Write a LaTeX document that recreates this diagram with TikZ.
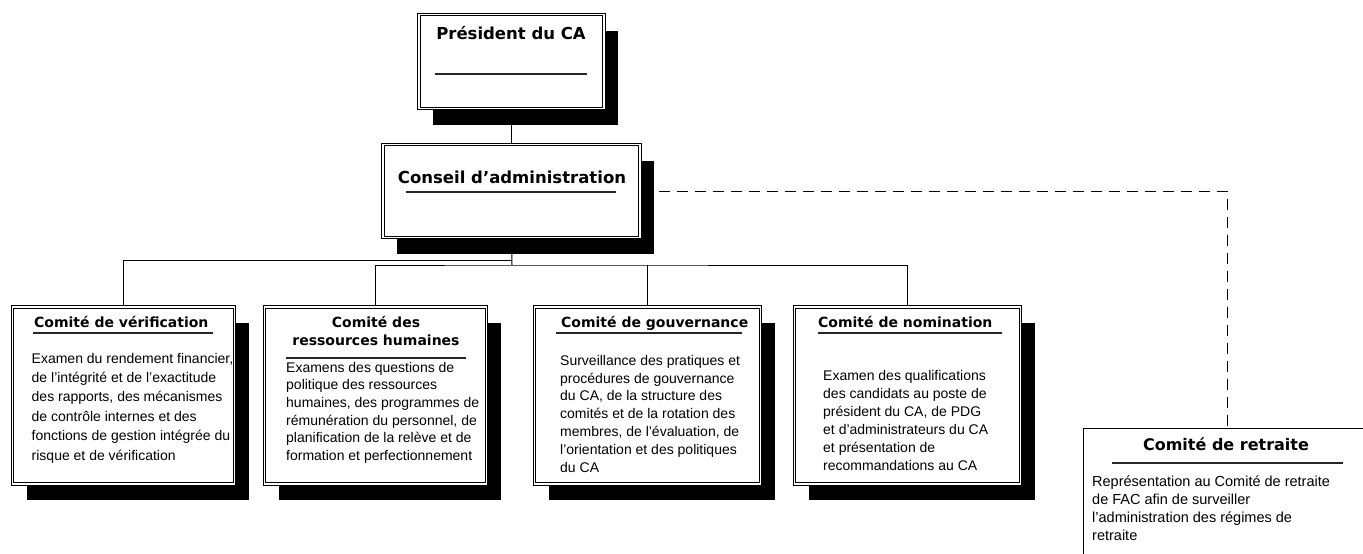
\documentclass[tikz,border=0pt]{standalone}
\usepackage{fontspec}
\setmainfont{Liberation Sans}
\newfontfamily\titlefont{DejaVu Sans}
\usepackage{tikz}
\usetikzlibrary{shadows}

\begin{document}
\begin{tikzpicture}[x=1pt, y=-1pt,
    boite/.style={draw, fill=white, line width=1.1pt, double=white, double distance=1.6pt, inner sep=0pt,
        drop shadow={shadow xshift=14pt, shadow yshift=-16pt, opacity=1, fill=black}},
    titre/.style={inner sep=0pt, anchor=base, font=\titlefont\bfseries\fontsize{#1}{18}\selectfont},
    titre/.default=14,
    corps/.style={inner sep=0pt, anchor=base west, align=left},
    trait/.style={line width=1.2pt, black!85},
    lien/.style={line width=1pt}]
                    \useasboundingbox (0,0) rectangle (1363,554);
                    \clip (0,0) rectangle (1363,554);

                    \node[boite, minimum width=185, minimum height=94] (pres) at (511.5,61.5) {};
                    \node[boite, minimum width=257, minimum height=93] (ca) at (511.5,191) {};
                    \foreach \nom/\cx/\w in {verif/123.5/222, rh/375.5/222, gouv/647.5/226, nomin/907.5/226}
                        \node[boite, minimum width=\w, minimum height=177] (\nom) at (\cx,395.5) {};
                    \node[draw, line width=1pt, minimum width=288, minimum height=160, inner sep=0pt] (retraite) at (1227,508) {};

                    % liens
                    \coordinate (bus1) at (512,260);
                    \coordinate (bus2) at (512,265);
                    \draw[lien] (pres) -- (ca);
                    \draw[lien] (ca.south) -- (bus2);
                    \draw[lien] (bus1) -| (verif.north);
                    \draw[lien] (rh.north) |- (bus2) -| (nomin.north);
                    \draw[lien] (gouv.north) -- (gouv.north |- bus2);
                    \draw[lien, dash pattern=on 11pt off 7pt] (ca.east) -| (retraite.north);

                    % titres
                    \node[titre=16.5] (tpres) at (511,39) {Président du CA};
                    \node[titre=16.5] (tca) at (512,183) {Conseil d’administration};
                    \node[titre, anchor=base west] (tverif) at (34,327) {Comité de vérification};
                    \node[titre, align=center] (trh) at (376,345) {Comité des\\ressources humaines};
                    \node[titre, anchor=base west] (tgouv) at (561,327) {Comité de gouvernance};
                    \node[titre, anchor=base west] (tnomin) at (818,327) {Comité de nomination};
                    \node[titre=16] (tretraite) at (1226,450) {Comité de retraite};

                    \draw[trait] (435,74) -- (587,74);
                    \draw[trait] (406,192) -- (616,192);
                    \draw[trait] (33,333) -- (213,333);
                    \draw[trait] (286,358) -- (466,358);
                    \draw[trait] (556,333) -- (742,333);
                    \draw[trait] (818,333) -- (1002,333);
                    \draw[trait] (1112,463) -- (1343,463);

                    % textes (ancre sur la derniere ligne)
                    \node[corps, font=\fontsize{14}{19.4}\selectfont] (cverif) at (31.5,460)
                        {Examen du rendement financier,\\de l’intégrité et de l’exactitude\\des rapports, des mécanismes\\de contrôle internes et des\\fonctions de gestion intégrée du\\risque et de vérification};
                    \node[corps, font=\fontsize{14}{17.7}\selectfont] (crh) at (286,460.5)
                        {Examens des questions de\\politique des ressources\\humaines, des programmes de\\rémunération du personnel, de\\planification de la relève et de\\formation et perfectionnement};
                    \node[corps, font=\fontsize{14}{17.8}\selectfont] (cgouv) at (560,472)
                        {Surveillance des pratiques et\\procédures de gouvernance\\du CA, de la structure des\\comités et de la rotation des\\membres, de l’évaluation, de\\l’orientation et des politiques\\du CA};
                    \node[corps, font=\fontsize{14}{18}\selectfont] (cnomin) at (823,470)
                        {Examen des qualifications\\des candidats au poste de\\président du CA, de PDG\\et d’administrateurs du CA\\et présentation de\\recommandations au CA};
                    \node[corps, font=\fontsize{14.5}{18}\selectfont] (cretraite) at (1092,540)
                        {Représentation au Comité de retraite\\de FAC afin de surveiller\\l’administration des régimes de\\retraite};
                \end{tikzpicture}
\end{document}
